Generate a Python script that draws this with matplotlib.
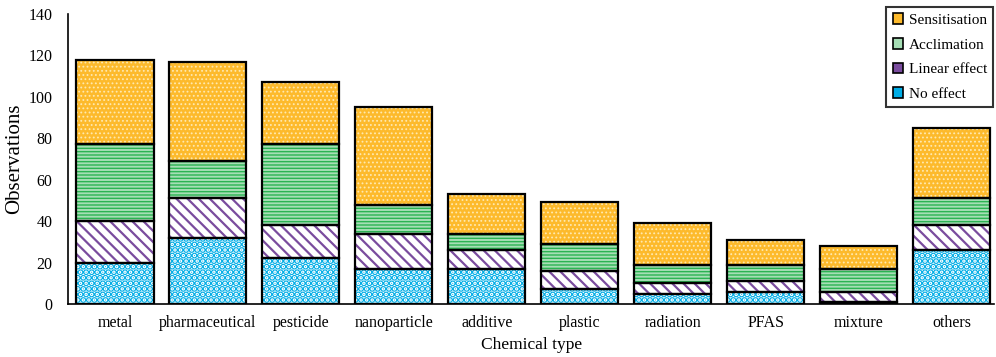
import matplotlib
matplotlib.use("Agg")
import matplotlib.pyplot as plt
from matplotlib.patches import Patch
import numpy as np

plt.rcParams['font.family'] = ['Liberation Serif', 'DejaVu Serif']

categories = ["metal", "pharmaceutical", "pesticide", "nanoparticle", "additive",
              "plastic", "radiation", "PFAS", "mixture", "others"]
no_effect     = [20, 32, 22, 17, 17, 7, 5, 6, 1, 26]
linear_effect = [20, 19, 16, 17, 9, 9, 5, 5, 5, 12]
acclimation   = [37, 18, 39, 14, 8, 13, 9, 8, 11, 13]
sensitisation = [41, 48, 30, 47, 19, 20, 20, 12, 11, 34]
series_names = ["No effect", "Linear effect", "Acclimation", "Sensitisation"]
yticks = [0, 20, 40, 60, 80, 100, 120, 140]

fig = plt.figure(figsize=(9.96, 3.57), dpi=100)
ax = fig.add_axes([0.0683, 0.1485, 0.93, 0.8123])

x = np.arange(len(categories))
width = 0.83
styles = [
    dict(face="white", hatch="...", hcol="#00ADE6", hlw=3.3),
    dict(face="white", hatch="\\\\\\", hcol="#7A4C9E", hlw=1.6),
    dict(face="#A6DEB5", hatch="-----", hcol="#2BB352", hlw=1.0),
    dict(face="#FDBA2C", hatch="....", hcol="#FFE9B0", hlw=0.8),
]
data = [no_effect, linear_effect, acclimation, sensitisation]
bottom = np.zeros(len(categories))
for vals, st, name in zip(data, styles, series_names):
    vals = np.array(vals, dtype=float)
    with plt.rc_context({'hatch.linewidth': st['hlw']}):
        bars = ax.bar(x, vals, width, bottom=bottom, color=st['face'],
                      edgecolor=st['hcol'], hatch=st['hatch'], linewidth=0, zorder=2)
        for b in bars:
            if hasattr(b, "set_hatch_linewidth"):
                b.set_hatch_linewidth(st['hlw'])
    ax.bar(x, vals, width, bottom=bottom, facecolor="none", edgecolor="black",
           linewidth=1.6, zorder=3)
    bottom += vals

ax.set_xlim(-0.505, 9.46)
ax.set_ylim(0, 140)
ax.set_yticks(yticks)
ax.set_xticks(x)
ax.set_xticklabels(categories)
ax.tick_params(axis='both', length=0, labelsize=11.5)
ax.tick_params(axis='y', pad=11)
ax.tick_params(axis='x', pad=8)
for s in ["top", "right"]:
    ax.spines[s].set_visible(False)
for s in ["left", "bottom"]:
    ax.spines[s].set_linewidth(1.2)
ax.set_ylabel("Observations", fontsize=15, labelpad=3)
ax.set_xlabel("Chemical type", fontsize=12.5, labelpad=4)

handles = [Patch(facecolor=st['face'] if st['face'] != "white" else st['hcol'],
                 edgecolor="black", linewidth=1.2) for st in styles]
handles = handles[::-1]
labels = series_names[::-1]
leg = ax.legend(handles, labels, loc="upper right", bbox_to_anchor=(0.9986, 1.024),
                borderaxespad=0,
                fontsize=11, frameon=True, fancybox=False, edgecolor="black",
                handlelength=0.7, handleheight=0.7, handletextpad=0.35,
                labelspacing=0.72, borderpad=0.4)
leg.get_frame().set_linewidth(1.5)
leg.set_zorder(5)

fig.savefig("out.png", dpi=100)
